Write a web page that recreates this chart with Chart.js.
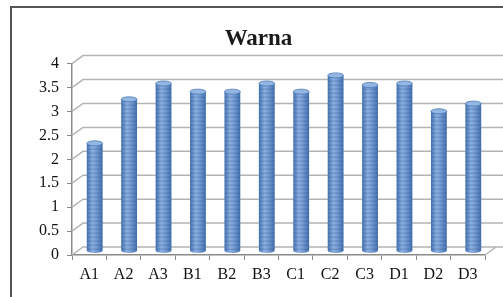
<!DOCTYPE html>
<html>
<head>
<meta charset="utf-8">
<script src="https://cdn.jsdelivr.net/npm/chart.js@4"></script>
<style>
  html, body { margin: 0; padding: 0; background: #fff; overflow: hidden; }
  #wrap { position: relative; width: 503px; height: 297px; }
  #warnaChart { display: block; }
  #frame {
    position: absolute; left: 10px; top: 6px; width: 600px; height: 400px;
    border-left: 2px solid #555; border-top: 2px solid #555; pointer-events: none;
  }
</style>
</head>
<body>
<div id="wrap">
  <canvas id="warnaChart" width="503" height="297"></canvas>
  <div id="frame"></div>
</div>
<script>
// chart data
const categories = ['A1', 'A2', 'A3', 'B1', 'B2', 'B3', 'C1', 'C2', 'C3', 'D1', 'D2', 'D3'];
const warnaValues = [2.25, 3.17, 3.5, 3.33, 3.33, 3.5, 3.33, 3.67, 3.47, 3.5, 2.92, 3.08];
const yTicks = [0, 0.5, 1, 1.5, 2, 2.5, 3, 3.5, 4];

// depth offset of the back wall (fake 3D)
const DEPTH_X = 11;
const DEPTH_Y = -8;

// Back wall grid + floor, drawn behind the bars
const wallPlugin = {
    id: 'wall',
    beforeDatasetsDraw(chart) {
        const { ctx, chartArea, scales } = chart;
        const y = scales.y;
        ctx.save();
        ctx.strokeStyle = '#b4b4b4';
        ctx.lineWidth = 1.5;
        yTicks.forEach(v => {
            const py = y.getPixelForValue(v);
            ctx.beginPath();
            ctx.moveTo(chartArea.left, py);
            ctx.lineTo(chartArea.left + DEPTH_X, py + DEPTH_Y);
            ctx.lineTo(chart.width, py + DEPTH_Y);
            ctx.stroke();
        });
        // right edge of floor
        ctx.beginPath();
        ctx.moveTo(chartArea.right, chartArea.bottom);
        ctx.lineTo(chartArea.right + DEPTH_X, chartArea.bottom + DEPTH_Y);
        ctx.stroke();
        ctx.restore();

        // move bars to the middle of the depth
        ctx.save();
        ctx.translate(DEPTH_X / 2, DEPTH_Y / 2);
    },
    afterDatasetsDraw(chart) {
        const { ctx } = chart;
        const meta = chart.getDatasetMeta(0);
        meta.data.forEach(bar => {
            const { x, y, base, width } = bar.getProps(['x', 'y', 'base', 'width'], true);
            const l = x - width / 2;
            const r = x + width / 2;
            const ry = 2.5;

            // cylinder shading
            const g = ctx.createLinearGradient(l, 0, r, 0);
            g.addColorStop(0, '#4372b2');
            g.addColorStop(0.35, '#8cb0e0');
            g.addColorStop(0.6, '#769dd3');
            g.addColorStop(1, '#416fae');
            ctx.fillStyle = g;
            ctx.beginPath();
            ctx.moveTo(l, y);
            ctx.lineTo(l, base);
            ctx.ellipse(x, base, width / 2, ry, 0, Math.PI, 0, true);
            ctx.lineTo(r, y);
            ctx.closePath();
            ctx.fill();

            // horizontal stripes
            ctx.save();
            ctx.beginPath();
            ctx.rect(l, y, width, base - y);
            ctx.clip();
            ctx.fillStyle = 'rgba(40, 75, 130, 0.22)';
            for (let sy = base - 2; sy > y; sy -= 4) {
                ctx.fillRect(l, sy, width, 1.5);
            }
            ctx.restore();

            // top cap
            ctx.fillStyle = '#94b6e2';
            ctx.strokeStyle = '#4d7ab6';
            ctx.lineWidth = 0.8;
            ctx.beginPath();
            ctx.ellipse(x, y, width / 2, ry, 0, 0, Math.PI * 2);
            ctx.fill();
            ctx.stroke();
        });
        ctx.restore();
    }
};

const ctx = document.getElementById('warnaChart').getContext('2d');
new Chart(ctx, {
    type: 'bar',
    data: {
        labels: categories,
        datasets: [{
            label: 'Warna',
            data: warnaValues,
            backgroundColor: 'rgba(0,0,0,0)',
            borderWidth: 0,
            barPercentage: 0.46,
            categoryPercentage: 1
        }]
    },
    options: {
        responsive: false,
        animation: false,
        layout: { padding: { left: 32, right: 18, top: 0, bottom: 0 } },
        plugins: {
            legend: { display: false },
            tooltip: { enabled: false },
            title: {
                display: true,
                text: 'Warna',
                color: '#1a1a1a',
                font: { family: "'Liberation Serif', serif", size: 23, weight: 'bold', lineHeight: 1.2 },
                padding: { top: 25, bottom: 11 }
            }
        },
        scales: {
            y: {
                min: 0,
                max: 4,
                afterFit(scale) { scale.width = 40; },
                afterBuildTicks(scale) { scale.ticks = yTicks.map(v => ({ value: v })); },
                ticks: {
                    color: '#111',
                    padding: 8,
                    font: { family: "'Liberation Serif', serif", size: 16 },
                    callback: v => String(v)
                },
                grid: {
                    drawOnChartArea: false,
                    drawTicks: true,
                    tickLength: 5,
                    color: '#8a8a8a'
                },
                border: { display: true, color: '#8a8a8a', width: 1.5 }
            },
            x: {
                afterFit(scale) { scale.height = 42; },
                ticks: {
                    color: '#111',
                    padding: 5,
                    maxRotation: 0,
                    autoSkip: false,
                    font: { family: "'Liberation Serif', serif", size: 16 }
                },
                grid: {
                    offset: true,
                    drawOnChartArea: false,
                    drawTicks: true,
                    tickLength: 5,
                    color: '#8a8a8a'
                },
                border: { display: true, color: '#8a8a8a', width: 1.5 }
            }
        }
    },
    plugins: [wallPlugin]
});
</script>
</body>
</html>
